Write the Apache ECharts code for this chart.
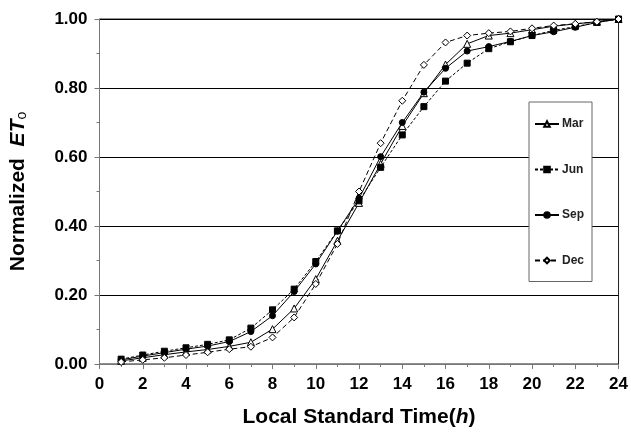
<!DOCTYPE html>
<html>
<head>
<meta charset="utf-8">
<script src="https://cdn.jsdelivr.net/npm/echarts@6/dist/echarts.min.js"></script>
<style>
  html, body { margin: 0; padding: 0; background: #fff; }
  #chart { width: 631px; height: 433px; }
</style>
</head>
<body>
<div id="chart"></div>
<script>
// hours 1..24
const hours = [1, 2, 3, 4, 5, 6, 7, 8, 9, 10, 11, 12, 13, 14, 15, 16, 17, 18, 19, 20, 21, 22, 23, 24]

const mar = [0.009, 0.018, 0.027, 0.035, 0.042, 0.051, 0.063, 0.101, 0.161, 0.246, 0.357, 0.467,
  0.580, 0.690, 0.785, 0.868, 0.928, 0.952, 0.959, 0.969, 0.979, 0.986, 0.992, 1.000]
const jun = [0.014, 0.026, 0.037, 0.047, 0.057, 0.070, 0.104, 0.157, 0.217, 0.297, 0.386, 0.473,
  0.570, 0.664, 0.746, 0.820, 0.872, 0.914, 0.934, 0.952, 0.967, 0.978, 0.990, 1.000]
const sep = [0.012, 0.023, 0.033, 0.043, 0.052, 0.065, 0.094, 0.140, 0.210, 0.290, 0.385, 0.480,
  0.601, 0.700, 0.788, 0.857, 0.907, 0.920, 0.935, 0.952, 0.963, 0.976, 0.990, 1.000]
const dec = [0.006, 0.012, 0.018, 0.026, 0.034, 0.043, 0.050, 0.077, 0.135, 0.232, 0.348, 0.500,
  0.640, 0.763, 0.867, 0.932, 0.952, 0.959, 0.964, 0.973, 0.981, 0.986, 0.992, 1.000]

const xTicks = [0, 2, 4, 6, 8, 10, 12, 14, 16, 18, 20, 22, 24]
const yTicks = [0, 0.2, 0.4, 0.6, 0.8, 1.0]

const pairs = (vals) => hours.map((h, i) => [h, vals[i]])

const chart = echarts.init(document.getElementById('chart'))

const mkSeries = (name, vals, symbol, size, filled, dash) => ({
  name,
  type: 'line',
  data: pairs(vals),
  symbol,
  symbolSize: size,
  showSymbol: true,
  lineStyle: { color: '#000', width: 1, type: dash },
  itemStyle: {
    color: filled ? '#000' : '#fff',
    borderColor: '#000',
    borderWidth: 1
  },
  emphasis: { disabled: true },
  z: 3
})

chart.setOption({
  animation: false,
  textStyle: { fontFamily: 'Liberation Sans, Arial, sans-serif' },
  grid: {
    left: 98, right: 9, top: 19, bottom: 69,
    show: true,
    borderColor: '#222',
    borderWidth: 1
  },
  legend: {
    orient: 'vertical',
    left: 529,
    top: 102,
    padding: [16, 8, 15, 5],
    itemGap: 33.5,
    itemWidth: 24,
    itemHeight: 7,
    backgroundColor: '#fff',
    borderColor: '#666',
    borderWidth: 1,
    textStyle: { fontSize: 12, fontWeight: 'bold', color: '#222', padding: [0, 0, 0, -2] },
    data: ['Mar', 'Jun', 'Sep', 'Dec']
  },
  xAxis: {
    type: 'value',
    min: 0,
    max: 24,
    interval: 2,
    name: '{a|Local Standard Time(}{i|h}{a|)}',
    nameLocation: 'middle',
    nameGap: 43,
    nameTextStyle: {
      rich: {
        a: { fontSize: 21, fontWeight: 'bold', color: '#000' },
        i: { fontSize: 21, fontWeight: 'bold', fontStyle: 'italic', color: '#000' }
      }
    },
    axisLine: { lineStyle: { color: '#777', width: 1 } },
    axisTick: { show: true, length: 5, lineStyle: { color: '#777' } },
    minorTick: { show: true, splitNumber: 2, length: 3, lineStyle: { color: '#777' } },
    splitLine: { show: false },
    axisLabel: {
      fontSize: 17, fontWeight: 'bold', color: '#000', margin: 12,
      formatter: (v) => xTicks.includes(v) ? String(v) : ''
    }
  },
  yAxis: {
    type: 'value',
    min: 0,
    max: 1,
    interval: 0.2,
    name: '{n|Normalized  }{i|ET}{s|o}',
    nameLocation: 'middle',
    nameGap: 70,
    nameTextStyle: {
      rich: {
        n: { fontSize: 21, fontWeight: 'bold', color: '#000' },
        i: { fontSize: 21, fontWeight: 'bold', fontStyle: 'italic', color: '#000' },
        s: { fontSize: 14, color: '#000', padding: [8, 0, 0, 0] }
      }
    },
    axisLine: { show: true, lineStyle: { color: '#777', width: 1 } },
    axisTick: { show: true, length: 5, lineStyle: { color: '#777' } },
    minorTick: { show: true, splitNumber: 2, length: 3, lineStyle: { color: '#777' } },
    splitLine: { show: true, lineStyle: { color: '#000', width: 1 } },
    axisLabel: {
      fontSize: 17, fontWeight: 'bold', color: '#000', margin: 12,
      formatter: (v) => yTicks.some(t => Math.abs(t - v) < 1e-9) ? v.toFixed(2) : ''
    }
  },
  series: [
    mkSeries('Mar', mar, 'triangle', 7, false, 'solid'),
    mkSeries('Jun', jun, 'rect', 6, true, [3, 2]),
    mkSeries('Sep', sep, 'circle', 6, true, 'solid'),
    mkSeries('Dec', dec, 'diamond', 7, false, [5, 3])
  ]
})

window.addEventListener('resize', () => {
  chart.resize()
})
</script>
</body>
</html>
